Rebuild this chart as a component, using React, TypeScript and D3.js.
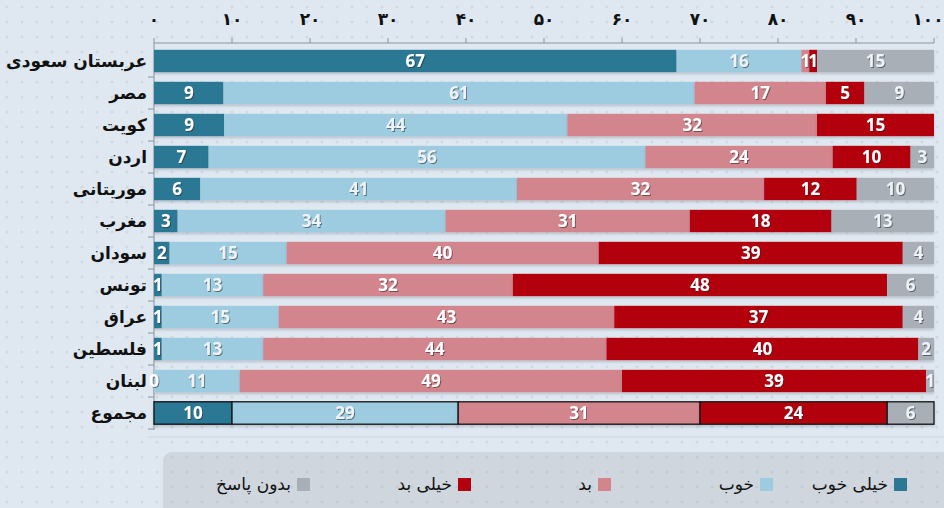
import React from "react"
import { scaleLinear, scaleBand, stack } from "d3"

const countries = [
  "عربستان سعودی",
  "مصر",
  "کویت",
  "اردن",
  "موریتانی",
  "مغرب",
  "سودان",
  "تونس",
  "عراق",
  "فلسطین",
  "لبنان",
  "مجموع",
]

const seriesNames = ["خیلی خوب", "خوب", "بد", "خیلی بد", "بدون پاسخ"]
const seriesKeys = ["veryGood", "good", "bad", "veryBad", "noAnswer"]
const colors = ["#2c7894", "#9dcbe0", "#d3858d", "#b3000e", "#a8afb7"]

const veryGood = [67, 9, 9, 7, 6, 3, 2, 1, 1, 1, 0, 10]
const good = [16, 61, 44, 56, 41, 34, 15, 13, 15, 13, 11, 29]
const bad = [1, 17, 32, 24, 32, 31, 40, 32, 43, 44, 49, 31]
const veryBad = [1, 5, 15, 10, 12, 18, 39, 48, 37, 40, 39, 24]
const noAnswer = [15, 9, 0, 3, 10, 13, 4, 6, 4, 2, 1, 6]

const tickValues = [0, 10, 20, 30, 40, 50, 60, 70, 80, 90, 100]
const tickLabels = ["۰", "۱۰", "۲۰", "۳۰", "۴۰", "۵۰", "۶۰", "۷۰", "۸۰", "۹۰", "۱۰۰"]

const width = 944
const height = 508
const font = "'DejaVu Sans', 'Open Sans', sans-serif"

const App = () => {
  // row sums are 99–101, bars are scaled to fill 100
  const rows = countries.map((c, i) => {
    const vals = [veryGood[i], good[i], bad[i], veryBad[i], noAnswer[i]]
    const sum = vals.reduce((a, b) => a + b, 0)
    const r: any = { country: c, sum }
    seriesKeys.forEach((k, j) => {
      r[k] = vals[j]
      r[k + "N"] = (vals[j] / sum) * 100
    })
    return r
  })

  const stacked = stack().keys(seriesKeys.map((k) => k + "N"))(rows as any)

  const x = scaleLinear().domain([0, 100]).range([154, 934])
  const y = scaleBand()
    .domain(countries)
    .range([45, 429])
    .paddingInner(0.3)
    .paddingOuter(0.15)

  const legendX = [900, 766, 604, 464, 303]

  return (
    <svg
      width={width}
      height={height}
      style={{ position: "absolute", left: 0, top: 0 }}
    >
      <defs>
        <pattern id="dots" width="15" height="15" patternUnits="userSpaceOnUse">
          <circle cx="7" cy="7" r="1.6" fill="#cfd9e2" />
        </pattern>
        <pattern id="dots2" width="15" height="15" patternUnits="userSpaceOnUse">
          <circle cx="7" cy="7" r="1.6" fill="#c3cbd3" />
        </pattern>
        <filter id="txtShadow" x="-20%" y="-20%" width="140%" height="140%">
          <feDropShadow dx="1" dy="1" stdDeviation="0.7" floodColor="#222" floodOpacity="0.55" />
        </filter>
        <filter id="barShadow" x="-5%" y="-20%" width="110%" height="160%">
          <feDropShadow dx="0" dy="2" stdDeviation="1.2" floodColor="#556" floodOpacity="0.25" />
        </filter>
      </defs>
      <rect width={width} height={height} fill="#dfe8f0" />
      <rect width={width} height={height} fill="url(#dots)" />

      {/* top axis */}
      <line x1={x(0)} x2={x(100)} y1={43} y2={43} stroke="#8b929a" />
      {tickValues.map((t, i) => (
        <g key={t} transform={`translate(${x(t)},0)`}>
          <line y1={38} y2={43} stroke="#8b929a" />
          <text
            x={t === 100 ? -6 : 0}
            y={25}
            textAnchor="middle"
            fontFamily={font}
            fontWeight="bold"
            fontSize={17}
            fill="#111"
          >
            {tickLabels[i]}
          </text>
        </g>
      ))}

      {/* left axis */}
      <line x1={x(0)} x2={x(0)} y1={43} y2={430} stroke="#8b929a" />
      {countries.map((c) => (
        <line
          key={"t" + c}
          x1={x(0) - 6}
          x2={x(0)}
          y1={(y(c) as number) + y.bandwidth() + 4.8}
          y2={(y(c) as number) + y.bandwidth() + 4.8}
          stroke="#8b929a"
        />
      ))}
      <line x1={148} x2={944} y1={437} y2={437} stroke="#cdd6df" />

      {countries.map((c) => (
        <text
          key={"l" + c}
          x={x(0) - 7}
          y={(y(c) as number) + y.bandwidth() / 2}
          dy="0.35em"
          textAnchor="end"
          fontFamily={font}
          fontWeight="bold"
          fontSize={17}
          fill="#111"
        >
          {c}
        </text>
      ))}

      {/* bars */}
      {stacked.map((s, si) => (
        <g key={s.key} fill={colors[si]}>
          {s.map((d: any, i) => {
            const isTotal = countries[i] === "مجموع"
            return (
              <rect
                key={i}
                x={x(d[0])}
                y={y(countries[i])}
                width={Math.max(0, x(d[1]) - x(d[0]))}
                height={y.bandwidth()}
                stroke={isTotal ? "#111" : "none"}
                strokeWidth={isTotal ? 1.3 : 0}
                filter="url(#barShadow)"
              />
            )
          })}
        </g>
      ))}

      {/* value labels */}
      {stacked.map((s, si) => (
        <g key={"v" + s.key}>
          {s.map((d: any, i) => {
            const v = rows[i][seriesKeys[si]]
            if (si === 4 && v === 0) return null
            return (
              <text
                key={i}
                x={(x(d[0]) + x(d[1])) / 2}
                y={(y(countries[i]) as number) + y.bandwidth() / 2}
                dy="0.36em"
                textAnchor="middle"
                fontFamily="'Open Sans', sans-serif"
                fontWeight="bold"
                fontSize={17}
                fill={si === 1 || si === 4 ? "#eef3f7" : "#fff"}
                filter="url(#txtShadow)"
              >
                {v}
              </text>
            )
          })}
        </g>
      ))}

      {/* legend */}
      <rect x={163} y={452} width={800} height={70} rx={9} fill="#cfd6dd" />
      <rect x={163} y={452} width={800} height={70} rx={9} fill="url(#dots2)" />
      {seriesNames.map((n, i) => (
        <g key={n} transform={`translate(${legendX[i]},485)`}>
          <rect x={-6} y={-7} width={13} height={13} fill={colors[i]} />
          <text
            x={-12}
            dy="0.3em"
            textAnchor="end"
            fontFamily={font}
            fontSize={17}
            fill="#111"
          >
            {n}
          </text>
        </g>
      ))}
    </svg>
  )
}

export default App
